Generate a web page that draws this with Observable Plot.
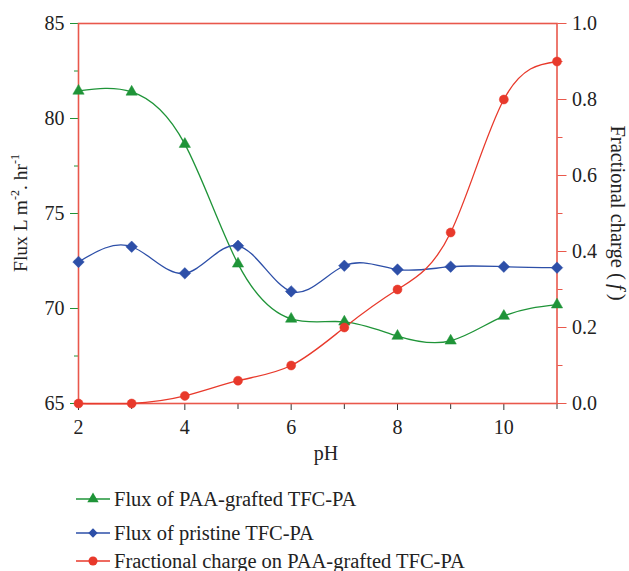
<!DOCTYPE html>
<html>
<head>
<meta charset="utf-8">
<script src="https://cdn.jsdelivr.net/npm/d3@7"></script>
<script src="https://cdn.jsdelivr.net/npm/@observablehq/plot@0.6"></script>
<style>
  html, body { margin: 0; padding: 0; background: #fff; }
  #wrap { position: relative; width: 629px; height: 571px; overflow: hidden; font-family: "Liberation Serif", "DejaVu Serif", serif; }
  #legend { position: absolute; left: 0; top: 470px; }
</style>
</head>
<body>
<div id="wrap"></div>
<script>
// ---- data ----
const pH = [2, 3, 4, 5, 6, 7, 8, 9, 10, 11];
const fluxGrafted = [81.45, 81.4, 78.65, 72.35, 69.45, 69.3, 68.55, 68.3, 69.6, 70.2];
const fluxPristine = [72.45, 73.25, 71.85, 73.3, 70.9, 72.25, 72.05, 72.2, 72.2, 72.15];
const charge = [0, 0, 0.02, 0.06, 0.10, 0.20, 0.30, 0.45, 0.80, 0.90];

const leftTicks = [65, 70, 75, 80, 85];
const leftMinor = [67.5, 72.5, 77.5, 82.5];
const rightTicks = [0, 0.2, 0.4, 0.6, 0.8, 1.0];
const rightMinor = [0.1, 0.3, 0.5, 0.7, 0.9];
const xTicks = [2, 4, 6, 8, 10];
const xMinor = [3, 5, 7, 9, 11];

const seriesNames = ["Flux of PAA-grafted TFC-PA", "Flux of pristine TFC-PA", "Fractional charge on PAA-grafted TFC-PA"];

// ---- styles ----
const GREEN = "#1f9438";
const BLUE = "#2d4fa8";
const RED = "#e8392b";
const AXRED = "#e9584c";
const FONT = "Liberation Serif, DejaVu Serif, serif";

// right axis maps fraction [0,1] onto flux [65,85]
const toLeft = f => 65 + f * 20;

const grafted = pH.map((x, i) => ({x, y: fluxGrafted[i]}));
const pristine = pH.map((x, i) => ({x, y: fluxPristine[i]}));
const chg = pH.map((x, i) => ({x, y: toLeft(charge[i])}));

const plot = Plot.plot({
  width: 629,
  height: 470,
  marginLeft: 78,
  marginRight: 72.5,
  marginTop: 23,
  marginBottom: 67,
  style: {fontFamily: FONT, fontSize: "20px", color: "#222", background: "#fff"},
  x: {domain: [2, 11]},
  y: {domain: [65, 85]},
  marks: [
    Plot.axisY(leftTicks, {anchor: "left", tickSize: 8, tickPadding: 6, stroke: GREEN, label: null, fill: "#222"}),
    Plot.axisY(leftMinor, {anchor: "left", tickSize: 4, stroke: GREEN, tickFormat: () => "", label: null}),
    Plot.axisY(rightTicks.map(toLeft), {anchor: "right", tickSize: 9, tickPadding: 6, stroke: AXRED, label: null, fill: "#222",
      tickFormat: d => ((d - 65) / 20).toFixed(1)}),
    Plot.axisY(rightMinor.map(toLeft), {anchor: "right", tickSize: 5, stroke: AXRED, tickFormat: () => "", label: null}),
    Plot.axisX(xTicks, {anchor: "bottom", tickSize: 7, tickPadding: 9, stroke: "#333", label: null, fill: "#222"}),
    Plot.axisX(xMinor, {anchor: "bottom", tickSize: 6, stroke: "#333", tickFormat: () => "", label: null}),
    Plot.frame({stroke: AXRED, strokeWidth: 1.6}),
    Plot.line(grafted, {x: "x", y: "y", stroke: GREEN, strokeWidth: 1.3, curve: "natural"}),
    Plot.line(pristine, {x: "x", y: "y", stroke: BLUE, strokeWidth: 1.3, curve: "natural"}),
    Plot.line(chg, {x: "x", y: "y", stroke: RED, strokeWidth: 1.3, curve: "natural"}),
    Plot.dot(grafted, {x: "x", y: "y", symbol: "triangle", fill: GREEN, stroke: GREEN, strokeWidth: 0.5, r: 4.2}),
    Plot.dot(pristine, {x: "x", y: "y", symbol: "diamond2", fill: BLUE, stroke: BLUE, strokeWidth: 0.5, r: 5.2}),
    Plot.dot(chg, {x: "x", y: "y", symbol: "circle", fill: RED, stroke: RED, strokeWidth: 0.5, r: 4.5})
  ]
});

const wrap = document.getElementById("wrap");
wrap.appendChild(plot);

// axis titles
const svg = d3.select(plot);
const lt = svg.append("text")
  .attr("transform", "translate(27,213) rotate(-90)")
  .attr("text-anchor", "middle")
  .attr("font-family", FONT)
  .attr("font-size", 19.5)
  .attr("fill", "#222");
lt.append("tspan").text("Flux L m");
lt.append("tspan").attr("dy", -8).attr("font-size", 12).text("-2");
lt.append("tspan").attr("dy", 8).text(". hr");
lt.append("tspan").attr("dy", -8).attr("font-size", 12).text("-1");

const rt = svg.append("text")
  .attr("transform", "translate(611,213) rotate(90)")
  .attr("text-anchor", "middle")
  .attr("font-family", FONT)
  .attr("font-size", 20.5)
  .attr("fill", "#222");
rt.append("tspan").text("Fractional charge (\u2009");
rt.append("tspan").attr("font-style", "italic").text("f");
rt.append("tspan").text("\u2009)");

svg.append("text")
  .attr("x", 326).attr("y", 460)
  .attr("text-anchor", "middle")
  .attr("font-family", FONT)
  .attr("font-size", 20)
  .attr("fill", "#222")
  .text("pH");

// legend
const colors = [GREEN, BLUE, RED];
const symbols = [d3.symbolTriangle, d3.symbolDiamond2, d3.symbolCircle];
const sizes = [56, 56, 64];
const rowsY = [29, 63, 91];
const leg = d3.select(wrap).append("svg")
  .attr("id", "legend").attr("width", 629).attr("height", 101);
seriesNames.forEach((name, i) => {
  const g = leg.append("g").attr("transform", `translate(0,${rowsY[i]})`);
  g.append("line").attr("x1", 76).attr("x2", 110).attr("stroke", colors[i]).attr("stroke-width", 1.3);
  g.append("path").attr("transform", "translate(93,0)").attr("d", d3.symbol(symbols[i], sizes[i])()).attr("fill", colors[i]);
  g.append("text").attr("x", 114).attr("dy", "0.33em")
    .attr("font-family", FONT)
    .attr("font-size", 20.5).attr("fill", "#222").text(name);
});
</script>
</body>
</html>
